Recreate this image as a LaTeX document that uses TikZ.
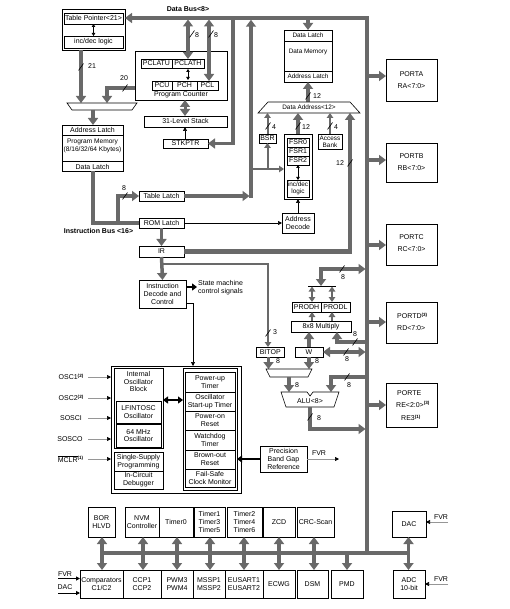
\documentclass[tikz,border=0pt]{standalone}
\usepackage{fontspec}
\setmainfont{Liberation Sans}
\usetikzlibrary{arrows.meta,calc}
\definecolor{busgray}{RGB}{105,105,105}
\definecolor{ingray}{RGB}{150,150,150}
\newcommand\lbl{\fontsize{7}{7.8}\selectfont}
\newcommand\slbl{\fontsize{6.4}{7}\selectfont}
\newcommand\supn[1]{\raisebox{2.6pt}{\fontsize{4.6}{5}\selectfont\bfseries #1}}
\newcommand\bx[7][]{\node[box,#1,minimum width=#5pt,minimum height=#6pt] (#2) at (#3,#4) {#7};}
\newcommand\mkslash[2]{\draw[line width=0.6pt] ({#1-2.5},{#2+3.5}) -- ({#1+2.5},{#2-3.5});}
\begin{document}
\begin{tikzpicture}[x=1pt,y=-1pt,
  box/.style={draw,line width=0.8pt,inner sep=0pt,outer sep=0pt,align=center,font=\lbl,anchor=north west},
  txt/.style={font=\lbl,inner sep=0pt,align=center},
  num/.style={font=\lbl,inner sep=0pt},
  bus/.style={draw=busgray,line width=3.5pt},
  med/.style={draw=busgray,line width=2pt},
  thinb/.style={draw=black,line width=0.7pt},
  ar/.style={-{Triangle[length=7pt,width=10pt]}},
  dar/.style={{Triangle[length=7pt,width=10pt]}-{Triangle[length=7pt,width=10pt]}},
  mar/.style={-{Triangle[length=5pt,width=6.5pt]}},
  mdar/.style={{Triangle[length=5pt,width=6.5pt]}-{Triangle[length=5pt,width=6.5pt]}},
  tar/.style={-{Triangle[length=4pt,width=4pt]}},
  tdar/.style={{Triangle[length=3pt,width=3.5pt]}-{Triangle[length=3pt,width=3.5pt]}},
  blk/.style={draw=black,line width=1.8pt},
  bar/.style={-{Triangle[length=5pt,width=7pt]}},
  bdar/.style={{Triangle[length=5pt,width=7pt]}-{Triangle[length=5pt,width=7pt]}},
  gin/.style={draw=ingray,line width=0.7pt,-{Triangle[length=4pt,width=4pt,color=black]}}]
\useasboundingbox (0,0) rectangle (510,609);

% ---------------- nodes ----------------
% table pointer
\bx{tpo}{62}{9}{63}{41}{}
\bx{tp}{64}{13}{59}{11}{Table Pointer<21>}
\bx{tid}{64}{36}{59}{12}{inc/dec logic}
% program counter
\bx{pc}{135}{51}{92}{49}{}
\bx{pclatu}{141}{59}{31}{9}{PCLATU}
\bx{pclath}{172}{59}{32}{9}{PCLATH}
\bx{pcu}{152}{81}{20}{9}{PCU}
\bx{pch}{172}{81}{25}{9}{PCH}
\bx{pcl}{197}{81}{21}{9}{PCL}
\node[txt] (pctxt) at (181,95) {Program Counter};
\bx{stk}{144}{116}{83}{11}{31-Level Stack}
\bx{stkp}{163}{139}{45}{9}{STKPTR}
% program memory
\bx{pm}{62}{125}{61}{46}{}
\node[txt] (pmal) at (92.5,130.5) {Address Latch};
\node[txt,font=\fontsize{6.6}{8}\selectfont] (pmtx) at (92.5,145.5) {Program Memory\\(8/16/32/64 Kbytes)};
\node[txt] (pmdl) at (92.5,166.5) {Data Latch};
% latches
\bx{tl}{139}{191}{45}{10}{Table Latch}
\bx{rl}{139}{218}{45}{10}{ROM Latch}
\bx{ir}{139}{246}{45}{11}{IR}
\bx{idc}{139}{280}{47}{28}{Instruction\\Decode and\\Control}
\node[txt,align=left,anchor=west] (smc) at (198,288) {State machine\\control signals};
% data memory
\bx{dm}{284}{30}{48}{52}{}
\node[txt,font=\slbl] (dmdl) at (308,35.5) {Data Latch};
\node[txt,font=\slbl] (dmtx) at (308,51.5) {Data Memory};
\node[txt,font=\slbl] (dmal) at (308,76.5) {Address Latch};
\bx{bsr}{259}{134}{17}{9}{BSR}
\bx{fsr}{284}{134}{28}{65}{}
\bx{fsr0}{287}{138}{22}{9}{FSR0}
\bx{fsr1}{287}{147}{22}{9}{FSR1}
\bx{fsr2}{287}{156}{22}{9}{FSR2}
\bx[font=\slbl]{fid}{287}{180}{22}{17}{inc/dec\\logic}
\bx[font=\slbl]{acc}{318}{134}{24}{15}{Access\\Bank}
\bx{ad}{282}{213}{32}{20}{Address\\Decode}
% ports
\bx{pa}{386}{59}{51}{42}{}
\bx{pb}{386}{143}{51}{39}{}
\bx{pcc}{386}{224}{51}{41}{}
\bx{pd}{386}{302}{51}{41}{}
\bx{pe}{386}{383}{51}{44}{}
\node[txt] (pat) at (411.5,80) {PORTA\\[4.2pt]RA<7:0>};
\node[txt] (pbt) at (411.5,162) {PORTB\\[4.2pt]RB<7:0>};
\node[txt] (pct) at (411.5,243) {PORTC\\[4.2pt]RC<7:0>};
\node[txt,align=left,anchor=west] (pdt1) at (397,316) {PORTD\supn{(3)}};
\node[txt,align=left,anchor=west] (pdt2) at (397,328) {RD<7:0>};
\node[txt,align=left,anchor=west] (pet1) at (397,393) {PORTE};
\node[txt,align=left,anchor=west] (pet2) at (396,404.5) {RE<2:0>\supn{(3)}};
\node[txt,align=left,anchor=west] (pet3) at (401,418) {RE3\supn{(1)}};
% ALU area
\bx{prodh}{292}{302}{29}{10}{PRODH}
\bx{prodl}{321}{302}{29}{10}{PRODL}
\bx{mult}{291}{321}{60}{11}{8x8 Multiply}
\bx{wreg}{295}{347}{28}{10}{W}
\bx{bitop}{256.5}{347}{27.5}{10}{BITOP}
% system block
\bx{sys}{111}{366}{130}{127}{}
\bx{iob}{114}{368}{49}{80}{}
\node[txt] (iobt) at (138.5,381.5) {Internal\\Oscillator\\Block};
\bx{lfo}{116}{401}{45}{22}{LFINTOSC\\Oscillator}
\bx{mho}{116}{424}{45}{23}{64 MHz\\Oscillator}
\bx{ssp}{114}{452}{49}{19}{Single-Supply\\Programming}
\bx{icd}{114}{471}{49}{18}{In-Circuit\\Debugger}
\bx{rcol}{183}{368}{54}{122}{}
\bx{put}{185}{372}{50}{20}{Power-up\\Timer}
\bx{ost}{185}{392}{50}{19}{Oscillator\\Start-up Timer}
\bx{por}{185}{411}{50}{19}{Power-on\\Reset}
\bx{wdt}{185}{430}{50}{20}{Watchdog\\Timer}
\bx{brr}{185}{450}{50}{19}{Brown-out\\Reset}
\bx{fscm}{185}{469}{50}{18}{Fail-Safe\\Clock Monitor}
\bx{pbg}{260}{446}{47}{26}{Precision\\Band Gap\\Reference}
% inputs
\node[txt] (osc1) at (71,377) {OSC1\supn{(2)}};
\node[txt] (osc2) at (71,398) {OSC2\supn{(2)}};
\node[txt] (sosci) at (71,418) {SOSCI};
\node[txt] (sosco) at (70,439) {SOSCO};
\node[txt] (mclr) at (70.5,459) {$\overline{\mbox{MCLR}}$\supn{(1)}};
% peripherals
\bx{borh}{88}{507}{27}{30}{BOR\\HLVD}
\bx{nvm}{125}{507}{34}{30}{NVM\\Controller}
\bx{tm0}{159}{507}{34}{30}{Timer0}
\bx{tm1}{194}{507}{31}{30}{Timer1\\Timer3\\Timer5}
\bx{tm2}{227}{507}{35}{30}{Timer2\\Timer4\\Timer6}
\bx{zcd}{263}{507}{32}{30}{ZCD}
\bx{crc}{297}{507}{37}{30}{CRC-Scan}
\bx{dac}{392}{511}{34}{26}{DAC}
\bx{cmp}{80}{570}{43}{28}{Comparators\\C1/C2}
\bx{ccp}{123}{570}{38}{28}{CCP1\\CCP2}
\bx{pwm}{161}{570}{32}{28}{PWM3\\PWM4}
\bx{mssp}{193}{570}{32}{28}{MSSP1\\MSSP2}
\bx{eus}{225}{570}{38}{28}{EUSART1\\EUSART2}
\bx{ecwg}{263}{570}{32}{28}{ECWG}
\bx{dsm}{297}{570}{31}{28}{DSM}
\bx{pmd}{331}{570}{32}{28}{PMD}
\bx{adc}{393}{570}{32}{28}{ADC\\10-bit}

% dividers
\draw[line width=0.6pt] (62,135) -- (123,135) (62,161) -- (123,161);
\draw[line width=0.6pt] (284,41) -- (332,41) (284,71) -- (332,71);

% ---------------- buses ----------------
\coordinate (dbR) at (367,18);
\coordinate (pbR) at (367,553);
\draw[bus,ar] (pbR) -- (dbR) -- (tpo.east |- dbR);
\node[txt,font=\bfseries\lbl] (dbl) at (188,9) {Data Bus<8>};
\draw[thinb,tdar] (tp.south) -- (tid.north);
% PC
\draw[bus,dar] (188,19.5) -- (pclath.north);
\draw[bus,dar] (209,19.5) -- (209,81);
\mkslash{192}{34} \node[num] at (197,35) {8};
\mkslash{211}{34} \node[num] at (216,35) {8};
\draw[thinb,tdar] (188,69) -- (188,80);
\draw[bus,line width=3pt,dar] (185,100) -- (185,116);
\draw[thinb,tar] (185,139) -- (185,127);
\draw[bus,ar] (233,18) |- (stkp.east);
% to program memory
\draw[bus,ar] ([yshift=-12.5pt]pc.west) -| (107,103);
\mkslash{125}{88} \node[num] at (124,78) {20};
\draw[bus,ar] (81,50) -- (81,103);
\mkslash{81}{67} \node[num] at (92,66) {21};
\draw[line width=0.6pt] (67,103) -- (137,103) -- (132,110) -- (72,110) -- cycle;
\coordinate (muxo) at (93,110);
\draw[bus,ar] (muxo) -- (93,125);
% instruction bus
\draw[bus] (93,171) |- (rl.west);
\draw[bus,ar] (118,223) |- (tl.west);
\mkslash{125}{196} \node[num] at (124,188.5) {8};
\node[txt,font=\bfseries\lbl] (ibl) at (98.5,230.5) {Instruction Bus <16>};
\draw[bus,ar] (tl.east) -- (249.5,196);
\draw[bus,ar] (251,197.75) -- (251,19.75);
\draw[med,mar] (251,169) -- (284,169);
\draw[med,mar] (267.5,169) -- (bsr.south);
\draw[thinb,tar] (rl.east) -- (ad.west);
\draw[bus,ar] (rl.south) -- (ir.north);
\draw[bus,ar] (ir.south) -- (idc.north);
\draw[bus,line width=4.5pt,ar] (ir.east) -| (350,113);
\mkslash{350}{163} \node[num] at (340,163) {12};
\draw[med,mar] (161.5,264) -| (268,347);
\mkslash{268}{333} \node[num] at (275,332) {3};
\draw[blk,bar] (186,287) -- (197,287);
\draw[thinb,tar] (186,303) -| (193,366);
% data memory
\draw[bus,ar] (308,18) -- (dm.north);
\draw[bus,ar] (308,102) -- (dm.south);
\mkslash{308}{96} \node[num] at (317,96) {12};
\draw[line width=0.6pt,fill=white] (268,102) -- (350,102) -- (360,113) -- (258,113) -- cycle;
\node[txt,font=\slbl] (dat) at (309,107.5) {Data Address<12>};
\draw[med,mar] (bsr.north) -- (267.5,113);
\mkslash{268}{126} \node[num] at (274,127) {4};
\draw[bus,ar] (fsr.north) -- (298,113);
\mkslash{298}{126} \node[num] at (306,127) {12};
\draw[med,mar] (acc.north) -- (330,113);
\mkslash{330}{126} \node[num] at (336,127) {4};
\draw[thinb,tdar] (fsr2.south) -- (fid.north);
\draw[thinb,tar] (ad.north) -- (fsr.south);
% ports
\draw[bus,ar] (367,76) -- (386,76);
\draw[bus,ar] (367,160) -- (386,160);
\draw[bus,ar] (367,245) -- (386,245);
\draw[bus,ar] (367,322) -- (386,322);
\draw[bus,ar] (367,405) -- (386,405);
% multiply / ALU
\draw[line width=0.8pt] (308,286) -- (336,286);
\draw[bus,dar] (321,286) |- (365.5,269);
\mkslash{342}{269} \node[num] at (343,277) {8};
\draw[med,mdar] (312,286.5) -- (prodh.north -| 312,0);
\draw[med,mdar] (332,286.5) -- (prodl.north -| 332,0);
\draw[med,mar] (312,321) -- (312,312);
\draw[med,mar] (332,321) -- (332,312);
\draw[bus,ar] (wreg.north) -- (309,332);
\draw[bus,ar] (367,342) -| (337,332);
\mkslash{355}{342} \node[num] at (355,334) {8};
\draw[bus,dar] (wreg.east) -- (365.5,352);
\mkslash{346}{352} \node[num] at (347,359.5) {8};
\draw[bus,ar] (268.5,357) -- (268.5,369);
\draw[bus,ar] (wreg.south) -- (309,369);
\node[num] at (278,361) {8};
\node[num] at (317,361) {8};
\draw[line width=0.6pt] (266,369) -- (312,369) -- (308,377) -- (270,377) -- cycle;
\draw[bus,ar] (289,377) -- (289,392);
\node[num] at (297,385) {8};
\draw[bus,ar] (367,377) -| (331,392);
\mkslash{347}{377} \node[num] at (349,385) {8};
\draw[line width=0.6pt] (281,392) -- (307,392) -- (310,396) -- (313,392) -- (339,392) -- (334,407) -- (286,407) -- cycle;
\node[txt] (alut) at (310,401.5) {ALU<8>};
\draw[bus,ar] (310,407) |- (365.5,429);
\mkslash{310}{417} \node[num] at (319,418) {8};
% system block links
\draw[blk,bdar] (163,400) -- (183,400);
\draw[blk,bar] (pbg.west) -- (237,459);
\draw[gin] (pbg.east) -- (339,459);
\node[txt] (fvr0) at (319,453) {FVR};
\draw[gin] (88,377) -- (111,377);
\draw[gin] (88,398) -- (111,398);
\draw[gin] (88,418) -- (111,418);
\draw[gin] (88,439) -- (111,439);
\draw[gin] (88,459) -- (111,459);
% peripheral bus
\draw[bus] (100,553) -- (410,553);
\foreach \x in {102,143,177,210,244,279,314,408.5}
  \draw[bus,dar] (\x,537) -- (\x,570);
\draw[bus,ar] (347,553) -- (pmd.north -| 347,0);
\draw[gin] (448,522) -- (dac.east |- 0,522);
\node[txt] (fvr1) at (441,517) {FVR};
\draw[gin] (448,584) -- (adc.east |- 0,584);
\node[txt] (fvr2) at (441,579.5) {FVR};
\node[txt] (fvr3) at (65,574) {FVR};
\draw[thinb,line width=1pt,tar] (58,578.5) -- (cmp.west |- 0,578.5);
\node[txt] (dac3) at (65,587.5) {DAC};
\draw[thinb,line width=1pt,tar] (58,593) -- (cmp.west |- 0,593);
\end{tikzpicture}
\end{document}
